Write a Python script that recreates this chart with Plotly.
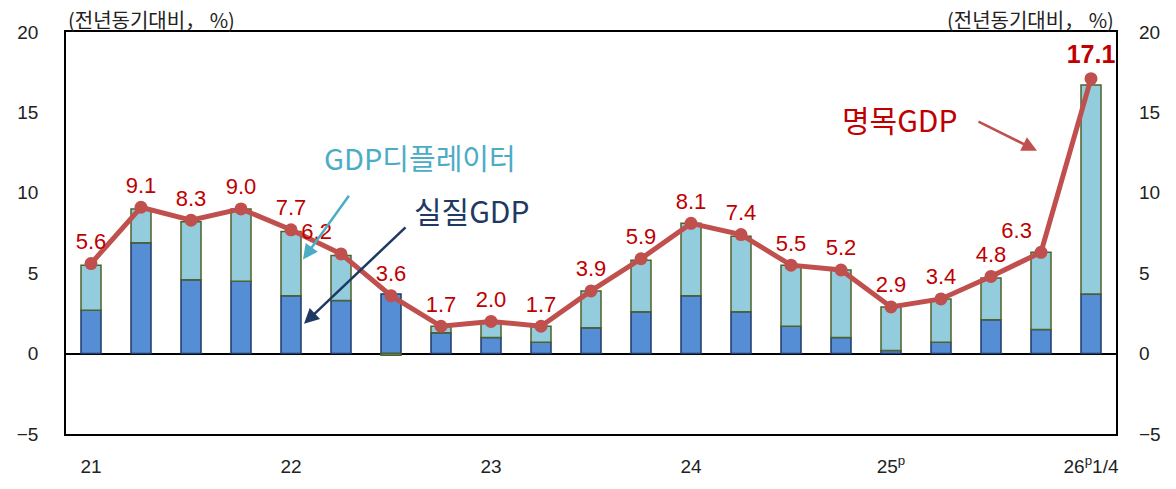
import plotly.graph_objects as go

# 분기 (21.1/4 ~ 26.1/4)
quarters = ['21.1', '21.2', '21.3', '21.4', '22.1', '22.2', '22.3', '22.4',
            '23.1', '23.2', '23.3', '23.4', '24.1', '24.2', '24.3', '24.4',
            '25.1', '25.2', '25.3', '25.4', '26.1']
real_gdp = [2.7, 6.9, 4.6, 4.5, 3.6, 3.3, 3.7, 1.3, 1.0, 0.7, 1.6,
            2.6, 3.6, 2.6, 1.7, 1.0, 0.2, 0.7, 2.1, 1.5, 3.7]
deflator = [2.8, 2.1, 3.6, 4.5, 4.0, 2.8, -0.1, 0.4, 0.9, 1.0, 2.3,
            3.2, 4.5, 4.7, 3.8, 4.2, 2.7, 2.7, 2.6, 4.8, 13.0]
nominal_gdp = [5.6, 9.1, 8.3, 9.0, 7.7, 6.2, 3.6, 1.7, 2.0, 1.7, 3.9,
               5.9, 8.1, 7.4, 5.5, 5.2, 2.9, 3.4, 4.8, 6.3, 17.1]
tick_vals = ['21.1', '22.1', '23.1', '24.1', '25.1', '26.1']
tick_text = ['21', '22', '23', '24', '25<sup>p</sup>', '26<sup>p</sup>1/4']

FONT = 'Liberation Sans, Arial, Noto Sans CJK KR'
KFONT = 'Noto Sans CJK KR'

labels = [f'{v:.1f}' for v in nominal_gdp]
labels[-1] = '<b>' + labels[-1] + '</b>'
label_size = [22] * len(nominal_gdp)
label_size[-1] = 25
label_pos = ['top center'] * len(nominal_gdp)
label_pos[5] = 'top left'
label_pos[19] = 'top left'

fig = go.Figure()
fig.add_trace(go.Bar(x=quarters, y=real_gdp, marker=dict(color='#558ED5', line=dict(color='#1F3864', width=1.5))))
fig.add_trace(go.Bar(x=quarters, y=deflator, marker=dict(color='#93CDDD', line=dict(color='#4F6228', width=1.5))))
fig.add_trace(go.Scatter(x=quarters, y=nominal_gdp, mode='lines+markers+text',
                         line=dict(color='#C0504D', width=5),
                         marker=dict(color='#C0504D', size=13),
                         text=labels, textposition=label_pos,
                         textfont=dict(color='#C00000', size=label_size, family=FONT)))
# 오른쪽 축용 보이지 않는 트레이스
fig.add_trace(go.Scatter(x=quarters, y=nominal_gdp, yaxis='y2', mode='lines',
                         line=dict(width=0), hoverinfo='skip', showlegend=False))

fig.update_layout(
    width=1176, height=489,
    margin=dict(l=66, r=60, t=32, b=51),
    barmode='relative', bargap=0.6,
    showlegend=False,
    plot_bgcolor='white', paper_bgcolor='white',
    font=dict(family=FONT, size=19, color='#222222'),
    xaxis=dict(type='category', range=[-0.5, 20.5], tickmode='array',
               tickvals=tick_vals, ticktext=tick_text,
               showline=True, linecolor='black', linewidth=1.5, mirror=True,
               ticks='', ticklabelstandoff=14, showgrid=False),
    yaxis=dict(range=[-5, 20], dtick=5, showline=True, linecolor='black', linewidth=1.5,
               mirror=True, ticks='', ticklabelstandoff=22, showgrid=False,
               zeroline=True, zerolinecolor='black', zerolinewidth=1.5),
    yaxis2=dict(range=[-5, 20], dtick=5, overlaying='y', side='right', ticks='',
                ticklabelstandoff=22, showgrid=False, zeroline=False, showline=False),
)

unit = '(전년동기대비， %)'
fig.add_annotation(x=0, y=1, xref='paper', yref='paper', text=unit, showarrow=False,
                   xanchor='left', yanchor='bottom', yshift=-4, font=dict(family=KFONT, size=20))
fig.add_annotation(x=1, y=1, xref='paper', yref='paper', text=unit, showarrow=False,
                   xanchor='right', yanchor='bottom', yshift=-4, font=dict(family=KFONT, size=20))

# 범례 대신 화살표 주석
fig.add_annotation(x=6.58, y=12.25, text='GDP디플레이터', showarrow=False,
                   font=dict(family=KFONT, size=29, color='#4BACC6'))
fig.add_annotation(x=4.24, y=5.85, ax=5.18, ay=9.91, axref='x', ayref='y', text='',
                   showarrow=True, arrowhead=2, arrowsize=1.2, arrowwidth=2.5, arrowcolor='#4BACC6')
fig.add_annotation(x=7.62, y=8.93, text='실질GDP', showarrow=False,
                   font=dict(family=KFONT, size=30, color='#1F3864'))
fig.add_annotation(x=4.26, y=1.85, ax=6.32, ay=7.94, axref='x', ayref='y', text='',
                   showarrow=True, arrowhead=2, arrowsize=1.2, arrowwidth=2.5, arrowcolor='#1F3864')
fig.add_annotation(x=16.18, y=14.6, text='명목GDP', showarrow=False,
                   font=dict(family=KFONT, size=30, color='#C00000'))
fig.add_annotation(x=18.92, y=12.62, ax=17.72, ay=14.47, axref='x', ayref='y', text='',
                   showarrow=True, arrowhead=2, arrowsize=1.2, arrowwidth=2.5, arrowcolor='#C0504D')

# body 기본 여백 제거, 모드바 숨김
fig.write_html('out.html', config={'displayModeBar': False},
               post_script="document.body.style.margin='0';")
